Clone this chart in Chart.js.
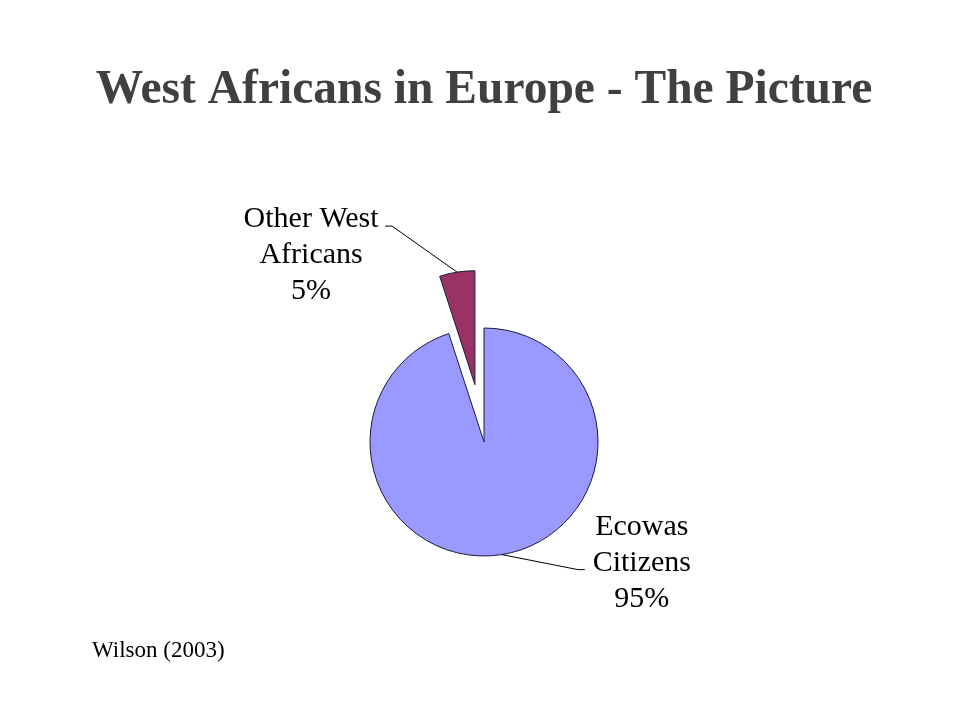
<!DOCTYPE html>
<html>
<head>
<meta charset="utf-8">
<title>West Africans in Europe - The Picture</title>
<script src="https://cdn.jsdelivr.net/npm/chart.js@4.4.1/dist/chart.umd.min.js"></script>
<style>
  body { margin: 0; background: #fff; }
  #wrap { position: relative; width: 960px; height: 720px; }
  #source {
    position: absolute; left: 92px; top: 637px;
    font-family: "Liberation Serif", "Times New Roman", serif;
    font-size: 23px; color: #000;
  }
</style>
</head>
<body>
<div id="wrap">
  <canvas id="pie" width="960" height="720"></canvas>
  <div id="source">Wilson (2003)</div>
</div>
<script>
// chart data
const groups = ['Ecowas Citizens', 'Other West Africans'];
const shares = [95, 5];
const labelLines = [['Ecowas', 'Citizens', '95%'], ['Other West', 'Africans', '5%']];
const sliceColors = ['#9999FF', '#993366'];

// pie whose slices can be pulled straight out (the built-in offset also widens the slice)
class ExplodedPie extends Chart.PieController {
    static id = 'explodedPie';
    static defaults = Chart.PieController.defaults;
    static overrides = Chart.PieController.overrides;

    updateElements(arcs, start, count, mode) {
        super.updateElements(arcs, start, count, mode);
        const pull = this.getDataset().pull || [];
        for (let i = start; i < start + count; i++) {
            const d = pull[i] || 0;
            if (!d) continue;
            const arc = arcs[i];
            const mid = (arc.startAngle + arc.endAngle) / 2;
            arc.x += Math.cos(mid) * d;
            arc.y += Math.sin(mid) * d;
        }
    }
}
Chart.register(ExplodedPie);

document.addEventListener('DOMContentLoaded', function() {
    // leader line + text placement for each slice (relative to the slice's outer edge point)
    const calloutLayout = [
        { elbow: [76, 15], end: [83, 15], text: [140, -20] },
        { elbow: [-65, -46], end: [-72, -46], text: [-146, -45] }
    ];

    const sliceLabels = {
        id: 'sliceLabels',
        afterDatasetsDraw(chart) {
            const ctx = chart.ctx;
            const arcs = chart.getDatasetMeta(0).data;
            ctx.save();
            arcs.forEach(function(arc, i) {
                const mid = (arc.startAngle + arc.endAngle) / 2;
                const ax = arc.x + Math.cos(mid) * arc.outerRadius;
                const ay = arc.y + Math.sin(mid) * arc.outerRadius;
                const l = calloutLayout[i];
                ctx.strokeStyle = '#000';
                ctx.lineWidth = 1;
                ctx.beginPath();
                ctx.moveTo(ax, ay);
                ctx.lineTo(ax + l.elbow[0], ay + l.elbow[1]);
                ctx.lineTo(ax + l.end[0], ay + l.end[1]);
                ctx.stroke();

                ctx.fillStyle = '#000';
                ctx.font = '30px "Liberation Serif", "Times New Roman", serif';
                ctx.textAlign = 'center';
                ctx.textBaseline = 'alphabetic';
                labelLines[i].forEach(function(line, k) {
                    ctx.fillText(line, ax + l.text[0], ay + l.text[1] + k * 36);
                });
            });
            ctx.restore();
        }
    };

    const ctx1 = document.getElementById('pie').getContext('2d');

    new Chart(ctx1, {
        type: 'explodedPie',
        data: {
            labels: groups,
            datasets: [{
                data: shares,
                backgroundColor: sliceColors,
                borderColor: '#1a1a3a',
                borderWidth: 1,
                pull: [0, 58]
            }]
        },
        options: {
            responsive: false,
            animation: false,
            radius: 114,
            layout: { padding: { left: 8, right: 0, top: 0, bottom: 0 } },
            plugins: {
                legend: { display: false },
                tooltip: { enabled: false },
                title: {
                    display: true,
                    text: 'West Africans in Europe - The Picture',
                    color: '#404040',
                    font: { family: '"Liberation Serif", "Times New Roman", serif', size: 47.5, weight: 'bold', lineHeight: 1.2 },
                    padding: { top: 62.5, bottom: 44.5 }
                }
            }
        },
        plugins: [sliceLabels]
    });
});
</script>
</body>
</html>
